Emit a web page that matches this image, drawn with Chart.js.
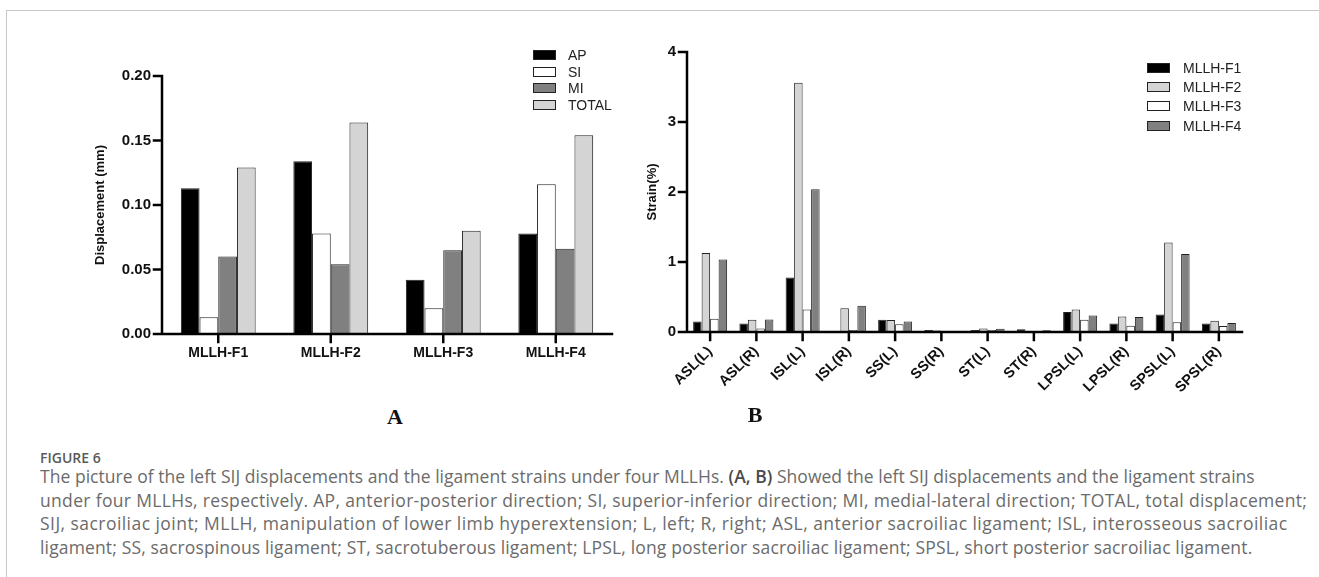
<!DOCTYPE html>
<html>
<head>
<meta charset="utf-8">
<script src="https://cdn.jsdelivr.net/npm/chart.js@4.4.1/dist/chart.umd.min.js"></script>
<style>
  html, body { margin: 0; padding: 0; background: #fff; }
  body { width: 1319px; height: 577px; position: relative; overflow: hidden; }
  .frame { position: absolute; left: 6px; top: 10px; width: 1400px; height: 700px;
           border-left: 1px solid #c8c8c8; border-top: 1px solid #c8c8c8; }
  #chartA { position: absolute; left: 0; top: 0; }
  #chartB { position: absolute; left: 620px; top: 0; }
  .panel { position: absolute; font-family: "Liberation Serif", serif; font-weight: bold;
           font-size: 22px; color: #111; transform: translate(-50%, -50%); }
  .fig { position: absolute; left: 40px; top: 448px; font-family: "Open Sans", sans-serif;
         font-weight: 600; font-size: 14px; color: #5a5a5a; }
  .cap { position: absolute; left: 40px; top: 465px; font-family: "Open Sans", sans-serif;
         font-size: 17.5px; line-height: 23.5px; color: #6b6b6b; white-space: nowrap; }
  .cap div { height: 23.5px; }
  .cap b { color: #4a4a4a; font-weight: 600; }
</style>
</head>
<body>
<div class="frame"></div>
<canvas id="chartA" width="640" height="390"></canvas>
<canvas id="chartB" width="699" height="430"></canvas>
<div class="panel" style="left:395px; top:417px;">A</div>
<div class="panel" style="left:755px; top:415px;">B</div>
<div class="fig">FIGURE 6</div>
<div class="cap">
<div style="letter-spacing:0.04px">The picture of the left SIJ displacements and the ligament strains under four MLLHs. <b>(A, B)</b> Showed the left SIJ displacements and the ligament strains</div>
<div style="letter-spacing:0.33px">under four MLLHs, respectively. AP, anterior-posterior direction; SI, superior-inferior direction; MI, medial-lateral direction; TOTAL, total displacement;</div>
<div style="letter-spacing:0.45px">SIJ, sacroiliac joint; MLLH, manipulation of lower limb hyperextension; L, left; R, right; ASL, anterior sacroiliac ligament; ISL, interosseous sacroiliac</div>
<div style="letter-spacing:0.15px">ligament; SS, sacrospinous ligament; ST, sacrotuberous ligament; LPSL, long posterior sacroiliac ligament; SPSL, short posterior sacroiliac ligament.</div>
</div>
<script>
// panel A: SIJ displacement (mm)
const groupsA   = ['MLLH-F1', 'MLLH-F2', 'MLLH-F3', 'MLLH-F4'];
const apVals    = [0.113, 0.134, 0.042, 0.078];
const siVals    = [0.013, 0.078, 0.020, 0.116];
const miVals    = [0.060, 0.054, 0.065, 0.066];
const totalVals = [0.129, 0.164, 0.080, 0.154];

// panel B: ligament strain (%)
const ligaments = ['ASL(L)', 'ASL(R)', 'ISL(L)', 'ISL(R)', 'SS(L)', 'SS(R)',
                   'ST(L)', 'ST(R)', 'LPSL(L)', 'LPSL(R)', 'SPSL(L)', 'SPSL(R)'];
const f1Vals = [0.15, 0.12, 0.78, 0.00, 0.175, 0.03, 0.03, 0.04, 0.285, 0.12, 0.25, 0.12];
const f2Vals = [1.13, 0.175, 3.56, 0.34, 0.17, 0.02, 0.05, 0.00, 0.32, 0.22, 1.28, 0.16];
const f3Vals = [0.19, 0.05, 0.32, 0.03, 0.11, 0.015, 0.03, 0.00, 0.175, 0.09, 0.14, 0.085];
const f4Vals = [1.035, 0.18, 2.04, 0.375, 0.15, 0.01, 0.045, 0.025, 0.235, 0.215, 1.115, 0.13];

const BLACK = '#000000', WHITE = '#ffffff', DARK = '#808080', LIGHT = '#d4d4d4';
const SANS = '"Liberation Sans", Arial, sans-serif';

// legend drawn as small boxes next to labels, like the figure
const boxLegend = {
  id: 'boxLegend',
  afterDraw(chart, args, opts) {
    const ctx = chart.ctx;
    ctx.save();
    ctx.font = '14px ' + SANS;
    ctx.textBaseline = 'middle';
    chart.data.datasets.forEach((ds, i) => {
      const y = opts.rows[i];
      ctx.fillStyle = ds.backgroundColor;
      ctx.fillRect(opts.x, y - 4.5, 23, 9);
      ctx.strokeStyle = '#222';
      ctx.lineWidth = 1;
      ctx.strokeRect(opts.x + 0.5, y - 4.5, 22, 9);
      ctx.fillStyle = '#222';
      ctx.fillText(ds.label, opts.textX, y + 1);
    });
    ctx.restore();
  }
};

// heavy L-shaped axes with outside tick marks, placed from the scales
const heavyAxes = {
  id: 'heavyAxes',
  afterDraw(chart) {
    const { ctx, chartArea: a, scales: { x, y } } = chart;
    ctx.save();
    ctx.strokeStyle = '#000';
    ctx.lineWidth = 2.5;
    ctx.lineCap = 'square';
    ctx.beginPath();
    ctx.moveTo(a.left, a.top);
    ctx.lineTo(a.left, a.bottom);
    ctx.lineTo(a.right, a.bottom);
    x.ticks.forEach((t, i) => {
      const px = x.getPixelForTick(i);
      ctx.moveTo(px, a.bottom);
      ctx.lineTo(px, a.bottom + 8);
    });
    y.ticks.forEach((t, i) => {
      const py = y.getPixelForTick(i);
      ctx.moveTo(a.left, py);
      ctx.lineTo(a.left - 8, py);
    });
    ctx.stroke();
    ctx.restore();
  }
};

function axisX(height, rotate) {
  return {
    grid: { display: true, drawOnChartArea: false, drawTicks: true, offset: false,
            tickLength: 8, color: 'rgba(0,0,0,0)' },
    border: { display: false },
    ticks: { color: '#111', font: { family: SANS, size: rotate ? 14.5 : 14, weight: 'bold' },
             autoSkip: false, maxRotation: rotate ? 45 : 0, minRotation: rotate ? 45 : 0, padding: 3 },
    afterFit(s) { s.height = height; }
  };
}

function axisY(width, title, max, step, fmt) {
  return {
    min: 0, max: max,
    grid: { display: true, drawOnChartArea: false, drawTicks: true,
            tickLength: 8, color: 'rgba(0,0,0,0)' },
    border: { display: false },
    ticks: { stepSize: step, color: '#111', padding: 3,
             font: { family: SANS, size: 15, weight: 'bold' }, callback: fmt },
    title: { display: true, text: title, color: '#111',
             font: { family: SANS, size: 13, weight: 'bold' } },
    afterFit(s) { s.width = width; }
  };
}

function bars(label, data, color) {
  return { label, data, backgroundColor: color, borderColor: '#222', borderWidth: 1,
           barPercentage: 1.0 };
}

new Chart(document.getElementById('chartA'), {
  type: 'bar',
  data: {
    labels: groupsA,
    datasets: [
      bars('AP', apVals, BLACK),
      bars('SI', siVals, WHITE),
      bars('MI', miVals, DARK),
      bars('TOTAL', totalVals, LIGHT)
    ]
  },
  options: {
    responsive: false, animation: false,
    layout: { padding: { left: 89, top: 76, right: 28, bottom: 0 } },
    datasets: { bar: { categoryPercentage: 0.665 } },
    plugins: {
      legend: { display: false }, tooltip: { enabled: false },
      boxLegend: { x: 533, textX: 568, rows: [55, 72, 88, 105] }
    },
    scales: {
      x: axisX(56, false),
      y: axisY(73, 'Displacement (mm)', 0.2, 0.05, v => v.toFixed(2))
    }
  },
  plugins: [heavyAxes, boxLegend]
});

new Chart(document.getElementById('chartB'), {
  type: 'bar',
  data: {
    labels: ligaments,
    datasets: [
      bars('MLLH-F1', f1Vals, BLACK),
      bars('MLLH-F2', f2Vals, LIGHT),
      bars('MLLH-F3', f3Vals, WHITE),
      bars('MLLH-F4', f4Vals, DARK)
    ]
  },
  options: {
    responsive: false, animation: false,
    layout: { padding: { left: 21, top: 52, right: 77, bottom: 0 } },
    datasets: { bar: { categoryPercentage: 0.735 } },
    plugins: {
      legend: { display: false }, tooltip: { enabled: false },
      boxLegend: { x: 527, textX: 563, rows: [68, 87, 106, 126] }
    },
    scales: {
      x: axisX(98, true),
      y: axisY(46, 'Strain(%)', 4, 1, v => v)
    }
  },
  plugins: [heavyAxes, boxLegend]
});
</script>
</body>
</html>
